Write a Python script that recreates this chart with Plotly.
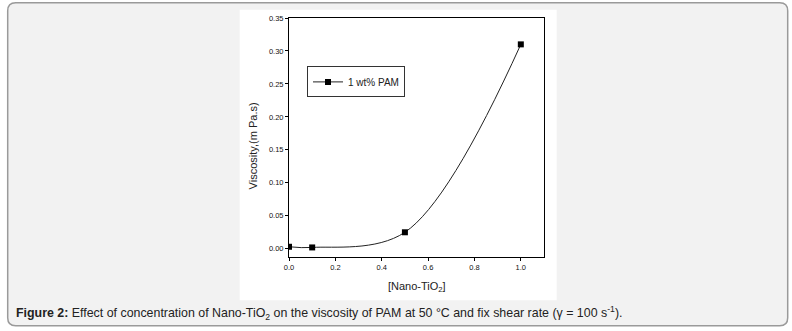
import plotly.graph_objects as go

# data
conc = [0.0, 0.1, 0.5, 1.0]
viscosity = [0.003, 0.002, 0.025, 0.31]
series_name = "1 wt% PAM"
xticks = [0.0, 0.2, 0.4, 0.6, 0.8, 1.0]
yticks = [0.00, 0.05, 0.10, 0.15, 0.20, 0.25, 0.30, 0.35]

W, H = 792, 331
L, R, T, B = 289.3, 544.3, 18.3, 257.3
PW, PH = R - L, B - T

def px(x):
    return (x - L) / PW

def py(y):
    return (B - y) / PH

fig = go.Figure()
fig.add_trace(go.Scatter(
    x=conc, y=viscosity, mode="lines+markers", name=series_name,
    line=dict(color="#222222", width=1, shape="spline", smoothing=1.0),
    marker=dict(symbol="square", size=6, color="black"),
))

# rounded outer frame
x0, x1, y0, y1, r = 8, 788, 3, 326, 8
path = (f"M {px(x0+r)},{py(y0)} L {px(x1-r)},{py(y0)} Q {px(x1)},{py(y0)} {px(x1)},{py(y0+r)} "
        f"L {px(x1)},{py(y1-r)} Q {px(x1)},{py(y1)} {px(x1-r)},{py(y1)} "
        f"L {px(x0+r)},{py(y1)} Q {px(x0)},{py(y1)} {px(x0)},{py(y1-r)} "
        f"L {px(x0)},{py(y0+r)} Q {px(x0)},{py(y0)} {px(x0+r)},{py(y0)} Z")
shapes = [
    dict(type="path", path=path, xref="paper", yref="paper", layer="below",
         fillcolor="#f2f2f2", line=dict(color="#9a9a9a", width=1.5)),
    dict(type="rect", xref="paper", yref="paper", layer="below",
         x0=px(240), x1=px(557), y0=py(300.5), y1=py(10),
         fillcolor="white", line=dict(width=0)),
]

font = "Liberation Sans, Arial, sans-serif"
annotations = [
    dict(text="Viscosity,(m Pa.s)", xref="paper", yref="paper", x=px(253), y=py(146),
         textangle=-90, showarrow=False, font=dict(family=font, size=11, color="#222"),
         xanchor="center", yanchor="middle"),
    dict(text="[Nano-TiO<sub>2</sub>]", xref="paper", yref="paper", x=px(416.8), y=py(287),
         showarrow=False, font=dict(family=font, size=11, color="#222"),
         xanchor="center", yanchor="middle"),
    dict(text="<b>Figure 2:</b> Effect of concentration of Nano-TiO<sub>2</sub> on the viscosity of PAM at 50 °C and fix shear rate (γ = 100 s<sup>-1</sup>).",
         xref="paper", yref="paper", x=px(14), y=py(313), showarrow=False,
         font=dict(family=font, size=12.4, color="#222"), xanchor="left", yanchor="middle"),
]

fig.update_layout(
    width=W, height=H,
    margin=dict(l=L, r=W - R, t=T, b=H - B, pad=0),
    paper_bgcolor="white", plot_bgcolor="rgba(0,0,0,0)",
    shapes=shapes, annotations=annotations,
    showlegend=True,
    legend=dict(x=px(307.3), y=py(66.7), xanchor="left", yanchor="top",
                bgcolor="white", bordercolor="#333", borderwidth=1,
                font=dict(family=font, size=10, color="#222"),
                itemwidth=30, tracegroupgap=0),
    xaxis=dict(range=[0, 1.1], tickvals=xticks, ticktext=[f"{v:.1f}" for v in xticks],
               showgrid=False, zeroline=False, showline=True, linecolor="black", linewidth=1,
               mirror=True, ticks="outside", ticklen=3, tickcolor="black",
               tickfont=dict(family=font, size=7.5, color="#111")),
    yaxis=dict(range=[-0.0125, 0.35], tickvals=yticks, ticktext=[f"{v:.2f}" for v in yticks],
               showgrid=False, zeroline=False, showline=True, linecolor="black", linewidth=1,
               mirror=True, ticks="outside", ticklen=3, tickcolor="black",
               tickfont=dict(family=font, size=7.5, color="#111")),
)

fig.write_html("out.html")
